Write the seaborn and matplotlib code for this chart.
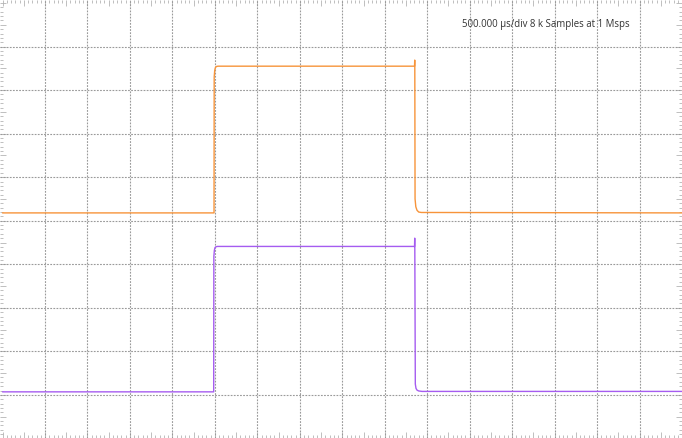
import numpy as np
import pandas as pd
import seaborn as sns
from matplotlib import pyplot as plt
from matplotlib.ticker import MultipleLocator

sns.set_style("white")
plt.rcParams['font.family'] = ['Open Sans', 'DejaVu Sans']

# Time in ms, level in screen divisions (0 = bottom, 10 = top)
orange_t = [0.0, 2.490, 2.492, 2.498, 2.505, 2.515, 2.535, 4.851, 4.853, 4.854, 4.857, 4.866, 4.880, 4.900, 4.930, 8.0]
orange_v = [5.18, 5.18, 8.30, 8.45, 8.51, 8.54, 8.55, 8.55, 8.69, 8.55, 5.50, 5.32, 5.24, 5.20, 5.19, 5.18]

purple_t = [0.0, 2.486, 2.488, 2.494, 2.501, 2.511, 2.530, 4.851, 4.853, 4.854, 4.860, 4.868, 4.880, 4.900, 4.940, 8.0]
purple_v = [1.07, 1.07, 4.18, 4.32, 4.38, 4.40, 4.41, 4.41, 4.60, 4.41, 1.25, 1.15, 1.11, 1.09, 1.08, 1.08]

ms_per_div = 0.5
n_xdiv = 16
n_ydiv = 10
caption = "500.000 µs/div 8 k Samples at 1 Msps"

orange = pd.DataFrame({'t': orange_t, 'v': orange_v})
purple = pd.DataFrame({'t': purple_t, 'v': purple_v})

fig = plt.figure(figsize=(6.82, 4.38), dpi=100)
ax = fig.add_axes([0, 0, 1, 1])

# Dotted graticule
for k in range(1, n_xdiv):
    ax.axvline(k * ms_per_div, color='#9a9a9a', lw=0.8, ls=(0, (1.6, 1.2)), zorder=1)
for k in range(1, n_ydiv):
    ax.axhline(k, color='#9a9a9a', lw=0.8, ls=(0, (1.6, 1.2)), zorder=1)

sns.lineplot(data=orange, x='t', y='v', color='#f7943a', lw=1.0, ax=ax, sort=False, zorder=3)
sns.lineplot(data=purple, x='t', y='v', color='#a55cf0', lw=1.0, ax=ax, sort=False, zorder=3)

ax.set_xlim(-0.03, n_xdiv * ms_per_div)
ax.set_ylim(0.01, 10.07)

ax.xaxis.set_major_locator(MultipleLocator(ms_per_div / 2))
ax.xaxis.set_minor_locator(MultipleLocator(ms_per_div / 10))
ax.yaxis.set_major_locator(MultipleLocator(0.5))
ax.yaxis.set_minor_locator(MultipleLocator(0.1))
ax.tick_params(which='both', direction='in', top=True, right=True, bottom=True, left=True,
               labelbottom=False, labelleft=False, color='#b4b4b4', width=0.6)
ax.tick_params(which='major', length=4)
ax.tick_params(which='minor', length=2)
ax.set_xlabel('')
ax.set_ylabel('')
for s in ax.spines.values():
    s.set_visible(False)

ax.text(0.80, 0.943, caption, transform=ax.transAxes, ha='center', va='center',
        fontsize=6.9, color='#333333')

fig.savefig('out.png', dpi=100)
